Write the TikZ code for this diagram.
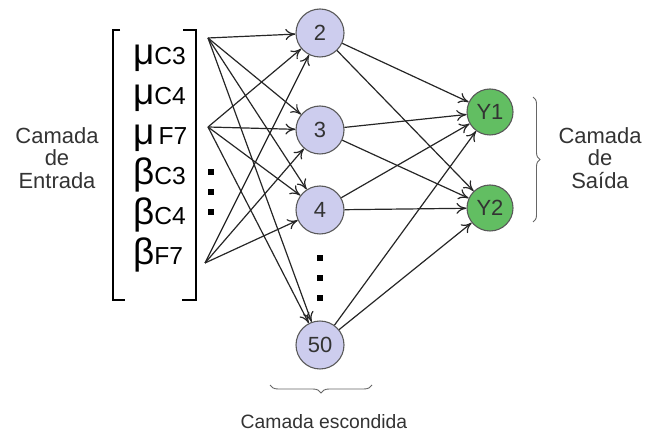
\documentclass[tikz,border=0pt]{standalone}
\usepackage{fontspec}
\setmainfont{Liberation Sans}
\usetikzlibrary{arrows.meta,decorations.pathreplacing}

\definecolor{hiddenfill}{RGB}{205,205,238}
\definecolor{outputfill}{RGB}{98,190,98}

\tikzset{
  neuron/.style={circle, draw=black!65, line width=0.022cm, inner sep=0pt,
    minimum size=0.96cm, text=black!80, font=\fontsize{12.5}{12.5}\selectfont},
  hidden/.style={neuron, fill=hiddenfill},
  output/.style={neuron, fill=outputfill, minimum size=0.92cm},
  link/.style={line width=0.024cm, draw=black!85, -{To[length=0.2cm,width=0.22cm]}},
  vdot/.style={fill=black, inner sep=0pt, minimum size=0.12cm},
  layerlabel/.style={align=center, text=black!80, font=\fontsize{12.5}{13}\selectfont},
  bracebar/.style={draw=black!60, line width=0.018cm, decorate}
}

\newcommand{\invar}[2]{{\fontsize{21}{21}\selectfont #1}{\fontsize{14}{14}\selectfont #2}}

\begin{document}
\begin{tikzpicture}[x=0.02cm,y=-0.02cm]
            \useasboundingbox (0,0) rectangle (651,431);

            % Input vector with its brackets
            \draw [line width=0.04cm] (120,30) -- (113,30) -- (113,300) -- (125,300);%
            \draw [line width=0.04cm] (183,30) -- (196,30) -- (196,300) -- (182,300);%
            \node [anchor=base west] (muC3)   at (127,65)  {\invar{μ}{C3}};%
            \node [anchor=base west] (muC4)   at (127,105) {\invar{μ}{C4}};%
            \node [anchor=base west] (muF7)   at (127,145) {\invar{μ}{\,F7}};%
            \node [anchor=base west] (betaC3) at (127,185) {\invar{β}{C3}};%
            \node [anchor=base west] (betaC4) at (127,225) {\invar{β}{C4}};%
            \node [anchor=base west] (betaF7) at (127,265) {\invar{β}{F7}};%
            \node [vdot] (vin1) at (211,172) {};%
            \node [vdot] (vin2) at (211,192) {};%
            \node [vdot] (vin3) at (211,212) {};%

            % Where the input arrows leave the vector
            \coordinate (src1) at (208,38);%
            \coordinate (src2) at (208,127);%
            \coordinate (src3) at (205,263);%

            % Hidden layer
            \node [hidden] (h2)  at (320,33)  {2};%
            \node [hidden] (h3)  at (320,130) {3};%
            \node [hidden] (h4)  at (320,210) {4};%
            \node [hidden] (h50) at (320,345) {50};%
            \node [vdot] (vh1) at (320,258) {};%
            \node [vdot] (vh2) at (320,278) {};%
            \node [vdot] (vh3) at (320,298) {};%

            % Output layer
            \node [output] (y1) at (490,112) {Y1};%
            \node [output] (y2) at (490,208) {Y2};%

            % Drawing input links
            \foreach \h in {h2,h3,h4,h50} {
              \draw [link] (src1) -- (\h);%
              \draw [link] (src2) -- (\h);%
            }
            \foreach \h in {h2,h3,h4} {
              \draw [link] (src3) -- (\h);%
            }

            % Drawing hidden to output links
            \foreach \h in {h2,h3,h4,h50} {
              \draw [link] (\h) -- (y1);%
              \draw [link] (\h) -- (y2);%
            }

            % Braces and layer names
            \draw [bracebar, decoration={brace,amplitude=0.14cm}] (533,97) -- (533,222);%
            \draw [bracebar, decoration={brace,amplitude=0.16cm}] (372,385) -- (270,385);%
            \node [layerlabel] (entrada) at (57,158)  {Camada\\de\\Entrada};%
            \node [layerlabel] (saida)   at (600,158) {Camada\\de\\Saída};%
            \node [layerlabel, font=\fontsize{11}{11}\selectfont, anchor=base] (escondida) at (324,428) {Camada escondida};%
        \end{tikzpicture}
\end{document}
